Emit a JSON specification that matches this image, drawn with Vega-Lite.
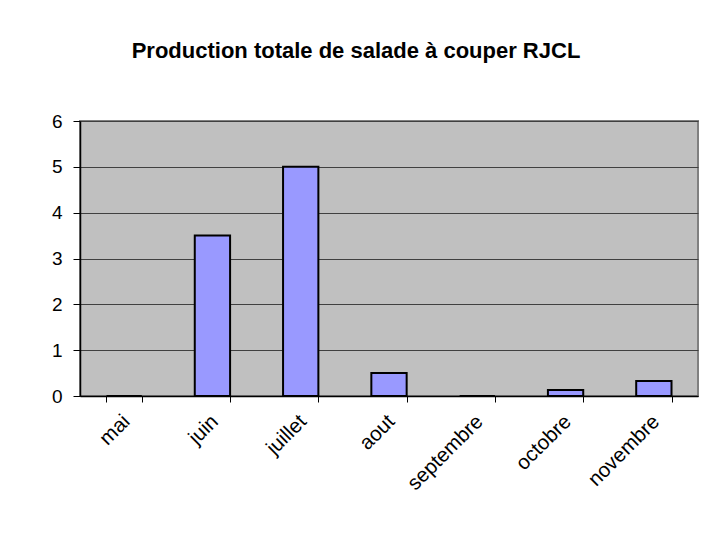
{
  "$schema": "https://vega.github.io/schema/vega-lite/v6.json",
  "autosize": "none",
  "width": 618,
  "height": 275,
  "padding": {"left": 80, "top": 121, "right": 7, "bottom": 138},
  "background": "white",
  "title": {
    "text": "Production totale de salade à couper RJCL",
    "font": "Liberation Sans",
    "fontSize": 22,
    "fontWeight": "bold",
    "color": "black",
    "anchor": "middle",
    "frame": "group",
    "dx": -33,
    "baseline": "alphabetic",
    "offset": 32
  },
  "data": {
    "values": [
      {"mois": "mai", "production": 0},
      {"mois": "juin", "production": 3.5},
      {"mois": "juillet", "production": 5},
      {"mois": "aout", "production": 0.5},
      {"mois": "septembre", "production": 0},
      {"mois": "octobre", "production": 0.13},
      {"mois": "novembre", "production": 0.33}
    ]
  },
  "mark": {"type": "bar", "fill": "#9999FF", "stroke": "black", "strokeWidth": 2},
  "encoding": {
    "x": {
      "field": "mois",
      "type": "nominal",
      "sort": null,
      "scale": {"paddingInner": 0.6, "paddingOuter": 0.3},
      "axis": {
        "title": null,
        "labelAngle": -45,
        "labelAlign": "right",
        "labelBaseline": "top",
        "labelFont": "Liberation Sans",
        "labelFontSize": 20.5,
        "labelColor": "black",
        "labelPadding": 9,
        "labelOffset": -5,
        "tickBand": "extent",
        "tickSize": 6,
        "tickColor": "black",
        "domainColor": "black",
        "domainWidth": 1.5,
        "grid": false
      }
    },
    "y": {
      "field": "production",
      "type": "quantitative",
      "scale": {"domain": [0, 6], "nice": false},
      "axis": {
        "title": null,
        "values": [0, 1, 2, 3, 4, 5, 6],
        "labelFont": "Liberation Sans",
        "labelFontSize": 19,
        "labelColor": "black",
        "labelPadding": 11,
        "tickSize": 7,
        "tickColor": "black",
        "domainColor": "black",
        "domainWidth": 1.5,
        "grid": true,
        "gridColor": "#404040",
        "gridWidth": 1
      }
    }
  },
  "config": {
    "view": {"fill": "#C0C0C0", "stroke": "#808080", "strokeWidth": 2}
  }
}
